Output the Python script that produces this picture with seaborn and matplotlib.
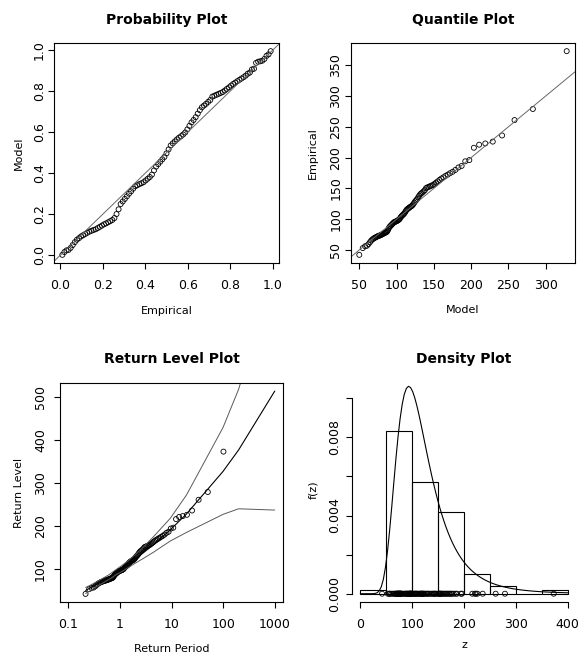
import numpy as np
import matplotlib
matplotlib.use("Agg")
import matplotlib.pyplot as plt
import seaborn as sns

z_sorted = [42, 53, 56, 56.8, 59.5, 62.5, 65.1, 67.0, 68.2, 69.4,
            70.2, 71.0, 71.8, 72.5, 73.0, 73.5, 73.9, 74.6, 75.3, 76.0,
            76.7, 77.2, 77.8, 78.4, 79.0, 80.0, 82.0, 84.3, 86.8, 88.0,
            89.2, 90.4, 91.6, 92.7, 93.9, 95.0, 95.5, 96.0, 96.4, 96.9,
            97.7, 98.5, 99.3, 100.4, 102.4, 104.2, 105.4, 106.6, 107.8, 109.0,
            110.8, 112.9, 115.0, 116.2, 117.3, 118.4, 119.4, 120.3, 121.3, 122.5,
            124.4, 126.7, 129.0, 130.7, 132.7, 135.4, 138.1, 140.5, 142.0, 143.5,
            145.3, 147.1, 150.5, 151.5, 152.5, 153.5, 154.5, 155.6, 157.4, 159.4,
            161.4, 163.7, 166.0, 168.0, 170.2, 172.4, 174.7, 177.0, 180.0, 184.0,
            186.5, 194.0, 196.0, 216, 221, 223, 226, 236, 261, 279, 373]

# fitted GEV (location, scale, shape)
gev_mu = 98.0
gev_sigma = 35.0
gev_xi = 0.145

# return level grid (ismev) and the 95% bands
rl_f = [0.01, 0.02, 0.03, 0.04, 0.05, 0.06, 0.07, 0.08, 0.09,
        0.1, 0.2, 0.3, 0.4, 0.5, 0.6, 0.7, 0.8, 0.9, 0.95, 0.99, 0.995, 0.999]
rl_upper = [57, 61, 64, 66.5, 68.5, 70, 72, 73, 75, 76, 87, 98, 108, 119,
            133, 150, 175, 218, 272, 429, 518, 799]
rl_lower = [43, 48, 52, 54.5, 57, 59, 60.5, 62, 63.5, 65, 76, 86, 94, 103,
            113, 124, 139, 165, 185, 227, 240, 237]

hist_breaks = [0, 50, 100, 150, 200, 250, 300, 350, 400]


def gev_cdf(z):
    return np.exp(-(1 + gev_xi * (z - gev_mu) / gev_sigma) ** (-1 / gev_xi))


def gev_quant(p):
    return gev_mu + gev_sigma / gev_xi * ((-np.log(p)) ** (-gev_xi) - 1)


def gev_pdf(z):
    t = (1 + gev_xi * (z - gev_mu) / gev_sigma) ** (-1 / gev_xi)
    return t ** (gev_xi + 1) * np.exp(-t) / gev_sigma


def rpad(lo, hi):
    d = 0.04 * (hi - lo)
    return lo - d, hi + d


z = np.array(z_sorted)
n = len(z)
p_emp = np.arange(1, n + 1) / (n + 1)

sns.set_style("ticks")
plt.rcParams["font.family"] = ["DejaVu Sans"]
plt.rcParams["axes.linewidth"] = 0.8
plt.rcParams["axes.edgecolor"] = "black"
plt.rcParams["text.color"] = "black"
plt.rcParams["axes.labelcolor"] = "black"
plt.rcParams["axes.titlecolor"] = "black"
tick_font = ["Liberation Sans Narrow", "DejaVu Sans"]

fig = plt.figure(figsize=(5.8, 6.55), dpi=100)


def px_axes(x0, y0, x1, y1):
    return fig.add_axes([x0 / 580, 1 - y1 / 655, (x1 - x0) / 580, (y1 - y0) / 655])


def style(ax, xpad, ypad):
    ax.tick_params(direction="out", length=4.3, width=0.8, labelsize=9,
                   labelfontfamily=tick_font, colors="black")
    ax.tick_params(axis="x", pad=xpad)
    ax.tick_params(axis="y", pad=ypad, labelrotation=90)
    for lab in ax.get_yticklabels():
        lab.set_va("center")


pt_kw = dict(marker="o", s=13, facecolor="none", edgecolor="black", linewidth=0.6)
ref_kw = dict(color="0.4", linewidth=0.7)

# Probability plot
ax1 = px_axes(54, 43, 279, 263)
g_model = gev_cdf(z)
sns.scatterplot(x=p_emp, y=g_model, ax=ax1, **pt_kw)
ax1.axline((0, 0), slope=1, **ref_kw)
ax1.set_xlim(rpad(p_emp.min(), p_emp.max()))
ax1.set_ylim(rpad(g_model.min(), g_model.max()))
ax1.set_xticks([0.0, 0.2, 0.4, 0.6, 0.8, 1.0])
ax1.set_yticks([0.0, 0.2, 0.4, 0.6, 0.8, 1.0])
ax1.set_xticklabels(["0.0", "0.2", "0.4", "0.6", "0.8", "1.0"])
ax1.set_yticklabels(["0.0", "0.2", "0.4", "0.6", "0.8", "1.0"])
style(ax1, 7.5, 1.5)
ax1.set_title("Probability Plot", fontsize=10, fontweight="bold", y=1.105, pad=0, va="center")
ax1.set_xlabel("Empirical", fontsize=8, va="center")
ax1.set_ylabel("Model", fontsize=8, va="center")
ax1.xaxis.set_label_coords(0.5, -0.217)
ax1.yaxis.set_label_coords(-0.156, 0.5)

# Quantile plot
ax2 = px_axes(351, 43, 575, 263)
q_model = gev_quant(p_emp)
sns.scatterplot(x=q_model, y=z, ax=ax2, **pt_kw)
ax2.axline((0, 0), slope=1, **ref_kw)
ax2.set_xlim(rpad(q_model.min(), q_model.max()))
ax2.set_ylim(rpad(z.min(), z.max()))
ax2.set_xticks([50, 100, 150, 200, 250, 300])
ax2.set_yticks([50, 100, 150, 200, 250, 300, 350])
style(ax2, 7.5, 2)
ax2.set_title("Quantile Plot", fontsize=10, fontweight="bold", y=1.105, pad=0, va="center")
ax2.set_xlabel("Model", fontsize=8, va="center")
ax2.set_ylabel("Empirical", fontsize=8, va="center")
ax2.xaxis.set_label_coords(0.5, -0.214)
ax2.yaxis.set_label_coords(-0.168, 0.5)

# Return level plot
ax3 = px_axes(60, 383, 283, 602)
f = np.array(rl_f)
rl_period = -1 / np.log(f)
rl_level = gev_quant(f)
sns.lineplot(x=rl_period, y=rl_level, ax=ax3, color="black", linewidth=0.8,
             sort=False, estimator=None)
sns.lineplot(x=rl_period, y=rl_upper, ax=ax3, color="0.35", linewidth=0.7,
             sort=False, estimator=None)
sns.lineplot(x=rl_period, y=rl_lower, ax=ax3, color="0.35", linewidth=0.7,
             sort=False, estimator=None)
sns.scatterplot(x=-1 / np.log(p_emp), y=z, ax=ax3, **pt_kw)
ax3.set_xscale("log")
ax3.set_xlim(10 ** -1.16, 10 ** 3.16)
ax3.set_ylim(rpad(min(z.min(), rl_level.min()), max(z.max(), rl_level.max())))
ax3.set_xticks([0.1, 1, 10, 100, 1000])
ax3.set_xticklabels(["0.1", "1", "10", "100", "1000"])
ax3.xaxis.set_minor_locator(matplotlib.ticker.NullLocator())
ax3.set_yticks([100, 200, 300, 400, 500])
style(ax3, 7, 5)
ax3.set_title("Return Level Plot", fontsize=10, fontweight="bold", y=1.108, pad=0, va="center")
ax3.set_xlabel("Return Period", fontsize=8, va="center")
ax3.set_ylabel("Return Level", fontsize=8, va="center")
ax3.xaxis.set_label_coords(0.5, -0.215)
ax3.yaxis.set_label_coords(-0.184, 0.5)

# Density plot
ax4 = px_axes(352, 378, 576, 602)
sns.histplot(x=z, bins=hist_breaks, stat="density", fill=False, color="black",
             linewidth=0.8, ax=ax4)
zz = np.linspace(max(hist_breaks[0], gev_mu - gev_sigma / gev_xi + 0.001), hist_breaks[-1], 100)
dens = gev_pdf(zz)
sns.scatterplot(x=z, y=np.zeros(n), ax=ax4, **pt_kw)
sns.lineplot(x=zz, y=dens, ax=ax4, color="black", linewidth=0.8, sort=False, estimator=None)
counts, _ = np.histogram(z, bins=hist_breaks)
top = max((counts / (n * 50)).max(), dens.max())
ax4.set_xlim(rpad(0, 400))
ax4.set_ylim(rpad(0, top))
ax4.set_xticks([0, 100, 200, 300, 400])
ax4.set_yticks([0, 0.002, 0.004, 0.006, 0.008, 0.010])
ax4.set_yticklabels(["0.000", "", "0.004", "", "0.008", ""])
ax4.spines["top"].set_visible(False)
ax4.spines["right"].set_visible(False)
ax4.spines["bottom"].set_bounds(0, 400)
ax4.spines["left"].set_bounds(0, 0.010)
style(ax4, 7, 3.6)
ax4.set_title("Density Plot", fontsize=10, fontweight="bold", y=1.083, pad=0, va="center")
ax4.set_xlabel("z", fontsize=8, va="center")
ax4.set_ylabel("f(z)", fontsize=8, va="center")
ax4.xaxis.set_label_coords(0.5, -0.192)
ax4.yaxis.set_label_coords(-0.173, 0.5)

fig.savefig("out.png", dpi=100)
